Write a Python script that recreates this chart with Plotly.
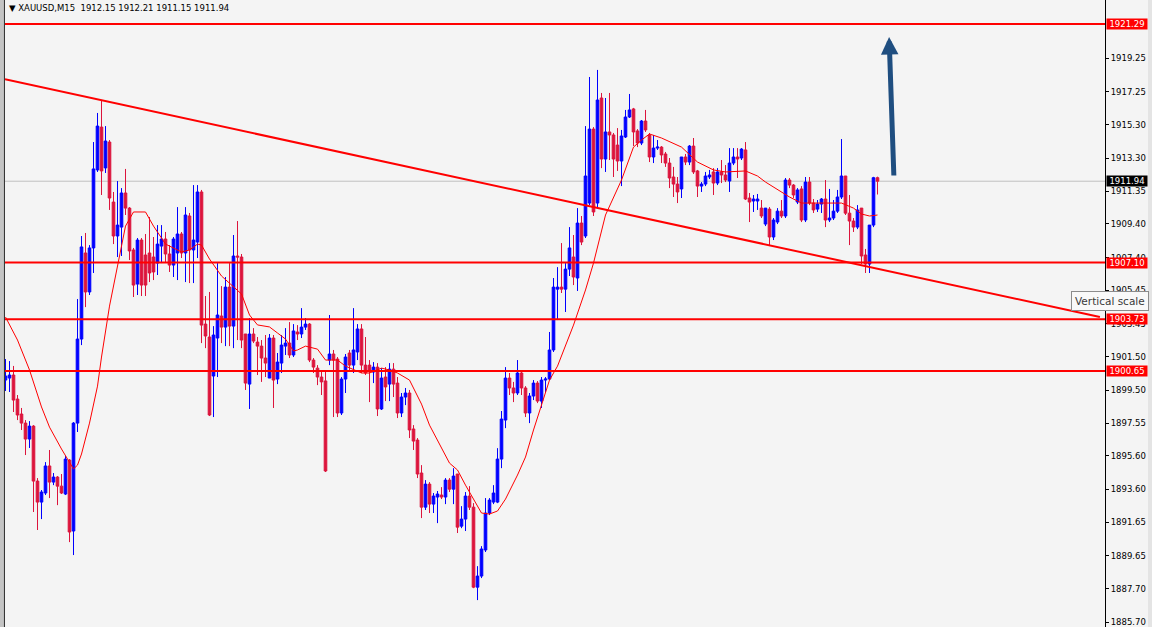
import plotly.graph_objects as go

# ---------------- data (XAUUSD M15) ----------------
opens = [
1900.11,1900.23,1900.41,1898.98,1898.09,1897.55,1896.60,1897.37,1894.10,1892.85,
1893.39,1895.00,1894.04,1894.34,1893.80,1893.33,1895.35,1891.13,1897.55,1902.55,
1907.67,1905.35,1907.97,1912.61,1915.16,1912.73,1914.27,1910.70,1908.68,1909.21,
1911.24,1910.34,1907.85,1905.82,1908.44,1907.55,1907.67,1907.43,1907.07,1908.08,
1908.50,1907.61,1906.95,1907.67,1908.80,1907.67,1909.87,1907.85,1908.32,1911.30,
1903.44,1902.67,1900.35,1902.61,1903.92,1903.26,1905.64,1903.32,1907.49,1907.43,
1902.85,1899.87,1902.85,1902.37,1902.13,1901.42,1900.23,1902.61,1900.17,1901.12,
1902.13,1902.31,1901.60,1902.97,1902.85,1903.26,1903.44,1901.30,1900.82,1900.29,
1900.06,1901.30,1901.66,1901.36,1898.15,1900.17,1901.72,1901.00,1901.78,1903.15,
1901.00,1901.00,1900.59,1900.88,1898.39,1900.29,1899.87,1900.76,1899.93,1898.15,
1899.10,1899.34,1897.20,1896.54,1894.58,1892.55,1893.92,1892.73,1893.15,1893.27,
1893.15,1894.16,1893.62,1894.52,1891.42,1891.84,1893.21,1892.55,1887.79,1888.45,
1890.00,1892.20,1892.85,1892.85,1895.41,1897.73,1900.23,1899.64,1899.34,1900.53,
1899.64,1898.15,1899.16,1899.93,1898.86,1900.11,1900.17,1901.90,1905.52,1905.64,
1905.52,1906.71,1907.43,1906.18,1909.45,1908.68,1910.64,1915.04,1910.64,1916.89,
1913.26,1914.87,1914.69,1914.09,1913.14,1914.57,1915.76,1916.24,1914.93,1914.21,
1915.52,1914.69,1913.38,1913.91,1913.97,1913.56,1913.02,1912.19,1911.77,1911.48,
1913.38,1913.08,1914.03,1912.55,1911.65,1911.77,1912.19,1912.49,1911.83,1912.49,
1912.31,1911.95,1913.02,1913.38,1913.32,1913.80,1910.94,1910.76,1910.76,1910.34,
1909.39,1910.28,1908.62,1909.51,1910.16,1909.87,1912.01,1911.71,1910.70,1911.48,
1909.63,1911.89,1910.64,1910.28,1910.58,1910.88,1909.63,1909.75,1910.16,1911.00,
1912.25,1910.04,1909.57,1909.21,1910.34,1907.55,1907.01,1909.33,1912.15]

highs = [
1901.36,1901.24,1900.95,1899.22,1898.45,1897.73,1897.67,1897.43,1894.28,1893.57,
1895.23,1895.95,1894.58,1894.40,1894.52,1895.59,1895.41,1897.61,1904.93,1908.68,
1908.86,1908.14,1914.27,1916.00,1916.77,1915.22,1914.39,1911.30,1911.95,1911.53,
1912.67,1910.40,1907.97,1908.56,1908.56,1908.80,1909.81,1908.62,1909.33,1909.33,
1908.92,1908.14,1908.62,1910.40,1908.92,1910.40,1910.05,1911.71,1911.71,1911.42,
1905.11,1905.35,1903.32,1907.07,1905.70,1906.24,1907.07,1908.74,1909.57,1907.61,
1902.85,1903.80,1903.20,1902.67,1902.49,1902.79,1902.85,1902.79,1901.72,1902.79,
1903.20,1903.56,1903.44,1903.38,1904.39,1903.80,1903.50,1901.42,1901.00,1900.59,
1900.59,1903.98,1901.90,1901.48,1900.29,1901.66,1901.90,1904.39,1903.44,1903.44,
1902.67,1901.30,1901.18,1901.12,1900.82,1900.88,1901.12,1901.12,1900.29,1899.34,
1899.64,1899.52,1897.43,1896.66,1895.05,1894.16,1894.04,1893.39,1893.51,1893.74,
1894.28,1894.28,1894.87,1894.52,1892.61,1893.45,1893.80,1892.79,1889.04,1890.23,
1893.09,1893.09,1893.86,1896.06,1898.27,1900.88,1900.53,1900.00,1901.30,1900.59,
1899.75,1899.34,1900.11,1900.05,1900.29,1900.29,1902.97,1906.18,1906.83,1908.26,
1907.07,1909.21,1908.74,1910.34,1909.87,1915.22,1918.14,1915.16,1918.56,1917.19,
1916.89,1917.19,1914.81,1915.10,1914.99,1916.18,1917.13,1916.30,1915.04,1915.58,
1916.18,1914.81,1914.69,1914.39,1914.03,1913.68,1913.32,1912.79,1912.19,1913.38,
1913.56,1914.09,1914.51,1912.61,1911.89,1912.49,1912.61,1912.72,1912.72,1913.20,
1912.90,1913.91,1913.91,1913.91,1913.91,1914.27,1911.24,1911.12,1911.18,1910.82,
1910.34,1910.40,1909.75,1910.34,1910.82,1912.13,1912.13,1911.77,1911.53,1911.65,
1912.19,1912.19,1910.88,1910.82,1910.94,1912.01,1911.48,1910.82,1911.42,1914.45,
1912.25,1911.12,1909.75,1910.52,1910.34,1907.91,1909.33,1912.20,1912.21]

lows = [
1899.46,1899.40,1898.21,1897.73,1897.14,1895.65,1896.07,1892.26,1891.19,1891.84,
1893.27,1893.09,1893.86,1892.67,1893.33,1893.27,1890.47,1889.70,1897.02,1902.19,
1904.45,1905.17,1906.48,1912.49,1911.12,1912.43,1910.23,1908.20,1907.43,1907.49,
1909.93,1907.25,1905.05,1905.17,1905.11,1905.11,1905.94,1906.06,1906.36,1907.07,
1907.13,1906.54,1906.24,1906.06,1907.37,1905.94,1905.88,1905.88,1907.37,1902.31,
1902.01,1897.97,1897.91,1900.29,1902.31,1902.13,1902.13,1902.01,1902.49,1902.01,
1899.52,1898.39,1902.31,1900.41,1900.00,1900.29,1900.23,1898.45,1899.87,1900.53,
1901.60,1901.42,1901.48,1902.49,1902.61,1903.09,1901.18,1900.53,1899.81,1899.22,
1894.64,1901.00,1897.91,1897.91,1898.03,1899.34,1900.59,1900.53,1901.30,1900.53,
1900.41,1898.80,1899.93,1897.97,1898.33,1898.86,1898.86,1899.10,1897.85,1897.91,
1898.62,1896.66,1895.95,1894.28,1891.90,1892.38,1892.20,1892.20,1891.60,1893.03,
1892.73,1893.45,1892.73,1891.01,1891.30,1891.13,1892.38,1887.73,1887.02,1888.33,
1889.88,1892.08,1892.73,1892.79,1894.87,1897.25,1899.22,1898.80,1899.22,1899.22,
1897.91,1897.55,1898.92,1898.74,1898.45,1899.40,1900.11,1901.78,1903.68,1905.29,
1904.16,1906.30,1905.76,1905.41,1908.14,1908.56,1910.52,1909.87,1910.34,1912.72,
1912.49,1913.20,1912.19,1912.55,1911.65,1914.51,1915.70,1914.03,1913.97,1914.09,
1914.87,1913.08,1913.02,1913.80,1913.02,1912.79,1911.53,1911.00,1910.64,1910.94,
1912.90,1912.90,1912.37,1911.00,1911.30,1911.65,1912.07,1911.12,1911.71,1911.83,
1911.89,1911.30,1912.90,1912.13,1913.20,1910.82,1909.51,1910.11,1910.23,1909.75,
1909.27,1908.08,1908.44,1909.39,1909.75,1909.75,1911.53,1910.94,1910.58,1909.51,
1909.51,1910.52,1910.05,1910.11,1910.05,1909.21,1909.51,1909.63,1910.05,1910.88,
1909.93,1908.14,1908.92,1909.09,1907.01,1906.48,1906.48,1909.21,1911.15]

closes = [
1900.35,1900.41,1898.92,1898.03,1897.55,1896.60,1897.37,1894.10,1892.85,1893.45,
1895.00,1894.04,1894.34,1893.80,1893.39,1895.41,1891.07,1897.55,1902.55,1908.03,
1905.35,1907.97,1912.67,1915.22,1912.55,1914.33,1910.94,1908.68,1909.33,1911.24,
1910.34,1907.79,1905.76,1908.44,1905.76,1905.76,1906.48,1906.54,1908.20,1908.50,
1907.61,1906.95,1908.50,1908.80,1907.67,1909.93,1907.85,1908.44,1911.30,1903.38,
1902.73,1898.03,1902.79,1903.98,1903.26,1905.64,1903.32,1907.49,1907.43,1902.49,
1899.93,1902.85,1902.43,1902.13,1901.42,1901.12,1902.61,1900.11,1901.18,1902.19,
1902.31,1901.60,1903.03,1902.85,1903.26,1903.44,1901.30,1900.88,1900.29,1900.00,
1894.70,1901.66,1901.30,1898.15,1900.17,1901.48,1901.00,1901.90,1903.15,1901.00,
1900.53,1900.65,1900.88,1898.39,1900.23,1899.70,1900.76,1899.87,1898.15,1899.10,
1899.34,1897.14,1896.48,1894.52,1892.55,1893.92,1892.73,1893.21,1893.33,1893.15,
1894.16,1893.62,1894.40,1891.36,1891.84,1893.21,1892.55,1887.79,1888.45,1890.06,
1892.20,1892.97,1893.39,1895.41,1897.79,1900.23,1899.64,1899.34,1900.53,1899.64,
1898.15,1899.16,1899.93,1898.86,1900.11,1900.17,1901.90,1905.64,1905.64,1905.52,
1906.71,1907.97,1906.24,1909.45,1908.32,1912.25,1915.04,1910.11,1916.77,1913.26,
1914.87,1914.69,1913.26,1913.14,1914.63,1915.76,1916.18,1914.87,1914.21,1915.52,
1914.99,1913.38,1913.91,1913.97,1913.50,1913.02,1912.13,1911.77,1911.30,1913.38,
1913.08,1914.03,1912.49,1911.65,1911.77,1912.25,1912.31,1911.83,1912.49,1912.31,
1912.01,1913.02,1913.38,1913.26,1913.85,1910.88,1910.70,1910.88,1910.88,1909.87,
1910.34,1908.62,1909.63,1910.16,1909.87,1912.01,1911.71,1911.12,1911.42,1909.63,
1911.89,1910.64,1910.23,1910.58,1910.88,1909.63,1909.75,1910.16,1911.00,1912.25,
1910.04,1909.57,1909.21,1910.23,1907.49,1907.01,1909.33,1912.15,1911.94]

# moving average (sampled at candle indices)
ma_idx = [0, 3, 6, 9, 11, 14, 17, 18, 19, 21, 23, 24, 26, 27, 29, 30, 32, 35, 37, 40,
          44, 46, 48, 49, 51, 54, 59, 61, 63, 66, 68, 70, 72, 73, 75, 78, 80, 83, 85, 89,
          91, 94, 96, 98, 101, 104, 106, 109, 111, 113, 115, 119, 121, 123, 125, 128, 130,
          132, 134, 136, 138, 142, 145, 147, 150, 154, 157, 159, 161, 164, 169, 173, 177,
          180, 185, 188, 190, 194, 196, 199, 204, 209, 212, 214, 216, 218]
ma_val = [1903.86, 1902.49, 1900.71, 1898.51, 1897.31, 1896.01, 1894.82, 1895.05, 1895.71,
          1897.55, 1899.75, 1901.48, 1904.51, 1905.65, 1907.97, 1909.27, 1910.11, 1910.11,
          1909.27, 1908.20, 1907.73, 1907.85, 1908.20, 1908.14, 1907.31, 1906.30, 1905.23,
          1903.98, 1903.39, 1903.27, 1902.91, 1902.55, 1901.84, 1901.90, 1902.13, 1901.95,
          1901.30, 1901.30, 1900.94, 1900.53, 1900.53, 1900.82, 1900.71, 1900.53, 1900.11,
          1898.68, 1897.43, 1896.06, 1895.17, 1894.76, 1893.86, 1892.20, 1892.14, 1892.32,
          1893.03, 1894.46, 1895.53, 1897.14, 1898.62, 1900.11, 1900.94, 1903.38, 1905.47,
          1907.07, 1909.93, 1912.01, 1913.97, 1914.39, 1914.75, 1914.51, 1913.97, 1913.08,
          1912.61, 1912.49, 1912.55, 1912.25, 1911.89, 1911.30, 1911.00, 1910.64, 1910.64,
          1910.64, 1910.34, 1909.99, 1909.87, 1909.93]

# trend line anchors (bar index, price)
trend_idx = [-0.125, 273.6]
trend_val = [1918.00, 1903.86]

# horizontal levels
levels = [1921.29, 1907.10, 1903.73, 1900.65]
last_price = 1911.94

# forecast arrow (bar index, price): tail -> head
arrow_idx = [222.1, 220.9]
arrow_val = [1912.19, 1920.52]

tick_vals = [1919.25, 1917.25, 1915.30, 1913.30, 1911.35, 1909.40, 1907.40, 1905.45,
             1903.45, 1901.50, 1899.50, 1897.55, 1895.60, 1893.60, 1891.65, 1889.65,
             1887.70, 1885.70]

assert len(opens) == len(highs) == len(lows) == len(closes) == 219
assert len(ma_idx) == len(ma_val)

BULL = "#0000ff"
BEAR = "#dc143c"
BG = "#f4f4f4"
FONT = "DejaVu Sans"

fig = go.Figure()
fig.add_trace(go.Candlestick(
    x=list(range(len(opens))), open=opens, high=highs, low=lows, close=closes,
    increasing=dict(line=dict(color=BULL, width=1), fillcolor=BULL),
    decreasing=dict(line=dict(color=BEAR, width=1), fillcolor=BEAR),
    whiskerwidth=0, hoverinfo="skip"))
fig.add_trace(go.Scatter(x=ma_idx, y=ma_val, mode="lines",
                         line=dict(color="#ff0000", width=1), hoverinfo="skip"))
fig.add_trace(go.Scatter(x=trend_idx, y=trend_val, mode="lines",
                         line=dict(color="#ff0000", width=2), hoverinfo="skip"))

shapes = []
# current price line
shapes.append(dict(type="line", xref="paper", x0=0, x1=1, yref="y", y0=last_price, y1=last_price,
                   line=dict(color="#c0c0c0", width=1), layer="below"))
for lv in levels:
    shapes.append(dict(type="line", xref="paper", x0=0, x1=1, yref="y", y0=lv, y1=lv,
                       line=dict(color="#ff0000", width=2)))
# left frame and right border strips
shapes.append(dict(type="rect", xref="paper", yref="paper", x0=-5/1100, x1=-1.2/1100, y0=0, y1=1,
                   fillcolor="#c4c4c4", line=dict(width=0)))
shapes.append(dict(type="line", xref="paper", yref="paper", x0=-0.6/1100, x1=-0.6/1100, y0=0, y1=1,
                   line=dict(color="#202020", width=1)))
shapes.append(dict(type="rect", xref="paper", yref="paper", x0=1143/1100, x1=1147/1100, y0=0, y1=1,
                   fillcolor="#e4e4e4", line=dict(width=0)))

annotations = []
for lv in levels:
    annotations.append(dict(xref="paper", x=1, xanchor="left", xshift=1, yref="y", y=lv,
                            text=f"{lv:.2f}", showarrow=False, bgcolor="#ff0000",
                            font=dict(family=FONT, size=8.5, color="white"),
                            width=40, height=10, borderpad=0, align="center"))
annotations.append(dict(xref="paper", x=1, xanchor="left", xshift=1, yref="y", y=last_price,
                        text=f"{last_price:.2f}", showarrow=False, bgcolor="#000000",
                        font=dict(family=FONT, size=8.5, color="white"),
                        width=40, height=10, borderpad=0, align="center"))
annotations.append(dict(xref="paper", x=0, xanchor="left", xshift=2, yref="paper", y=1,
                        yanchor="top", yshift=-1,
                        text="\u25bc\u00a0XAUUSD,M15\u00a0\u00a01912.15 1912.21 1911.15 1911.94",
                        showarrow=False, font=dict(family=FONT, size=8.5, color="black")))
annotations.append(dict(xref="paper", x=1066/1100, xanchor="left", yref="paper", y=1 - 300.5/627,
                        yanchor="middle", text="Vertical scale", showarrow=False,
                        bgcolor="#f9f9f9", bordercolor="#8c8c8c", borderwidth=1, borderpad=3,
                        font=dict(family=FONT, size=10.5, color="#3a3a3a")))
annotations.append(dict(xref="x", yref="y", x=arrow_idx[1], y=arrow_val[1],
                        axref="x", ayref="y", ax=arrow_idx[0], ay=arrow_val[0],
                        text="", showarrow=True, arrowhead=2, arrowsize=0.7,
                        arrowwidth=5, arrowcolor="#1f4e80"))

fig.update_layout(
    width=1152, height=627,
    margin=dict(l=5, r=47, t=0, b=0),
    paper_bgcolor=BG, plot_bgcolor=BG,
    showlegend=False, hovermode=False,
    boxgap=0.35, boxgroupgap=0,
    shapes=shapes, annotations=annotations,
    xaxis=dict(range=[-0.125, 274.875], visible=False, rangeslider=dict(visible=False),
               fixedrange=True),
    yaxis=dict(range=[1885.42, 1922.72], side="right", showgrid=False, zeroline=False,
               showline=True, linecolor="black", linewidth=1,
               ticks="outside", ticklen=3, tickcolor="black",
               ticklabeloverflow="allow",
               tickvals=tick_vals, ticktext=[f"{v:.2f}" for v in tick_vals],
               tickfont=dict(family=FONT, size=8.5, color="black"), fixedrange=True),
)

fig.write_html("out.html", config={"displayModeBar": False},
               post_script="document.body.style.margin='0';document.body.style.overflow='hidden';")
